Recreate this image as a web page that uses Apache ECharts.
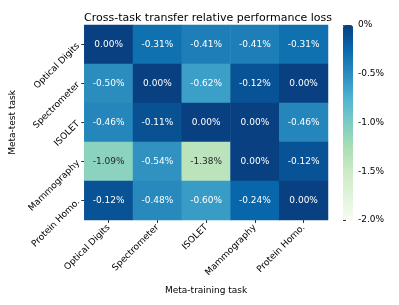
<!DOCTYPE html>
<html><head><meta charset="utf-8">
<script src="https://cdn.jsdelivr.net/npm/echarts@6/dist/echarts.min.js"></script>
<style>html,body{margin:0;padding:0;background:#fff}#c{width:399px;height:305px}</style>
</head><body><div id="c"></div>
<script>
const trainTasks = ['Optical Digits', 'Spectrometer', 'ISOLET', 'Mammography', 'Protein Homo.'];
const testTasks = ['Optical Digits', 'Spectrometer', 'ISOLET', 'Mammography', 'Protein Homo.'];
const lossOpticalDigits = [0.00, -0.31, -0.41, -0.41, -0.31];
const lossSpectrometer = [-0.50, 0.00, -0.62, -0.12, 0.00];
const lossISOLET = [-0.46, -0.11, 0.00, 0.00, -0.46];
const lossMammography = [-1.09, -0.54, -1.38, 0.00, -0.12];
const lossProteinHomo = [-0.12, -0.48, -0.60, -0.24, 0.00];
const colorbarTicks = [0, -0.5, -1.0, -1.5, -2.0];

const rows = [lossOpticalDigits, lossSpectrometer, lossISOLET, lossMammography, lossProteinHomo];
const data = [];
rows.forEach((r, yi) => r.forEach((v, xi) => {
  data.push({ value: [xi, yi, v], label: { color: v < -0.9 ? '#262626' : '#ffffff' } });
}));

const font = 'DejaVu Sans';
const chart = echarts.init(document.getElementById('c'), null, { renderer: 'canvas' });
chart.setOption({
  animation: false,
  backgroundColor: '#ffffff',
  textStyle: { fontFamily: font },
  title: {
    text: 'Cross-task transfer relative performance loss',
    left: 203, top: 8, textAlign: 'center',
    textStyle: { fontFamily: font, fontSize: 11, fontWeight: 'normal', color: '#000' }
  },
  grid: [
    { left: 84, top: 25, width: 244, height: 195 },
    { left: 343, top: 25, width: 10, height: 195 }
  ],
  xAxis: [
    {
      type: 'category', data: trainTasks, gridIndex: 0,
      name: 'Meta-training task', nameLocation: 'middle', nameGap: 66,
      nameTextStyle: { fontFamily: font, fontSize: 9, color: '#000' },
      axisLine: { show: false },
      axisTick: { show: true, alignWithLabel: true, length: 3, lineStyle: { color: '#333' } },
      axisLabel: { rotate: 45, fontFamily: font, fontSize: 9, color: '#000', margin: 6, interval: 0 },
      splitLine: { show: false }
    },
    { type: 'value', gridIndex: 1, show: false, min: 0, max: 1 }
  ],
  yAxis: [
    {
      type: 'category', data: testTasks, gridIndex: 0, inverse: true,
      name: 'Meta-test task', nameLocation: 'middle', nameGap: 66,
      nameTextStyle: { fontFamily: font, fontSize: 9, color: '#000' },
      axisLine: { show: false },
      axisTick: { show: true, alignWithLabel: true, length: 3, lineStyle: { color: '#333' } },
      axisLabel: { rotate: 45, fontFamily: font, fontSize: 9, color: '#000', margin: 6, interval: 0 },
      splitLine: { show: false }
    },
    {
      type: 'value', gridIndex: 1, position: 'right', min: -2, max: 0, interval: 0.5,
      axisLine: { show: false },
      axisTick: { show: true, length: 3, lineStyle: { color: '#333' } },
      axisLabel: {
        fontFamily: font, fontSize: 9, color: '#000', margin: 5,
        formatter: v => (colorbarTicks.includes(v) ? (v === 0 ? '0%' : v.toFixed(1) + '%') : '')
      },
      splitLine: { show: false }
    }
  ],
  visualMap: {
    type: 'continuous', min: -2, max: 0, calculable: false, show: true,
    left: 343, top: 25, itemWidth: 10, itemHeight: 195, padding: 0,
    text: null, showLabel: false, seriesIndex: 0,
    inRange: { color: ['#f7fcf0', '#e0f3db', '#ccebc5', '#a8ddb5', '#7bccc4', '#4eb3d3', '#2b8cbe', '#0868ac', '#084081'] }
  },
  series: [
    {
      type: 'heatmap', xAxisIndex: 0, yAxisIndex: 0, data: data,
      label: {
        show: true, fontFamily: font, fontSize: 9,
        formatter: p => p.value[2].toFixed(2) + '%'
      },
      itemStyle: { borderWidth: 0 },
      emphasis: { disabled: true }
    },
    { type: 'line', xAxisIndex: 1, yAxisIndex: 1, data: [], silent: true }
  ]
});
</script></body></html>
